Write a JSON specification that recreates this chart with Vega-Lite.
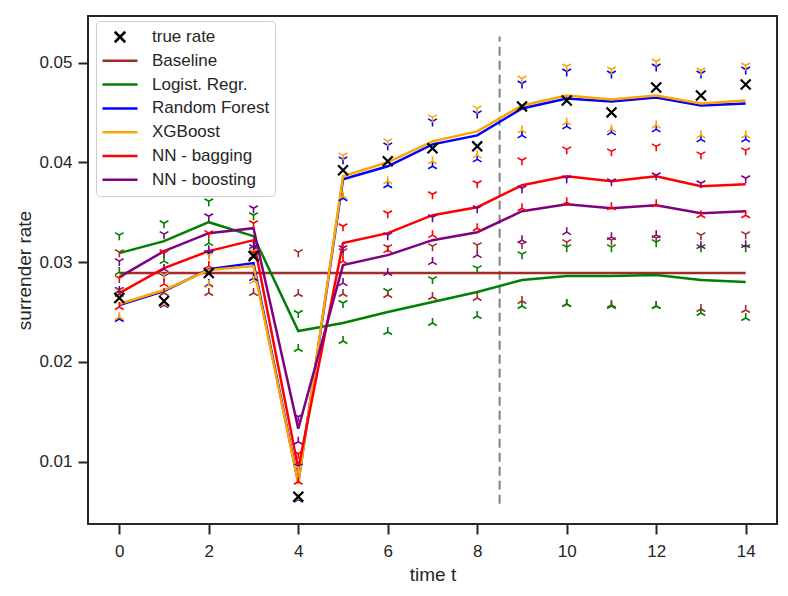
{
  "$schema": "https://vega.github.io/schema/vega-lite/v6.json",
  "width": 689,
  "height": 508,
  "autosize": {"type": "none"},
  "padding": {"left": 88, "top": 16, "right": 11, "bottom": 72},
  "background": "white",
  "datasets": {
    "preds": [
      {"t": 0, "series": "Baseline", "rate": 0.0289, "lower": 0.0268, "upper": 0.0310},
      {"t": 1, "series": "Baseline", "rate": 0.0289, "lower": 0.0269, "upper": 0.0309},
      {"t": 2, "series": "Baseline", "rate": 0.0289, "lower": 0.0269, "upper": 0.0309},
      {"t": 3, "series": "Baseline", "rate": 0.0289, "lower": 0.0269, "upper": 0.0309},
      {"t": 4, "series": "Baseline", "rate": 0.0289, "lower": 0.0268, "upper": 0.0310},
      {"t": 5, "series": "Baseline", "rate": 0.0289, "lower": 0.0268, "upper": 0.0311},
      {"t": 6, "series": "Baseline", "rate": 0.0289, "lower": 0.0267, "upper": 0.0315},
      {"t": 7, "series": "Baseline", "rate": 0.0289, "lower": 0.0265, "upper": 0.0316},
      {"t": 8, "series": "Baseline", "rate": 0.0289, "lower": 0.0264, "upper": 0.0317},
      {"t": 9, "series": "Baseline", "rate": 0.0289, "lower": 0.0261, "upper": 0.0318},
      {"t": 10, "series": "Baseline", "rate": 0.0289, "lower": 0.0258, "upper": 0.0320},
      {"t": 11, "series": "Baseline", "rate": 0.0289, "lower": 0.0257, "upper": 0.0322},
      {"t": 12, "series": "Baseline", "rate": 0.0289, "lower": 0.0256, "upper": 0.0324},
      {"t": 13, "series": "Baseline", "rate": 0.0289, "lower": 0.0253, "upper": 0.0327},
      {"t": 14, "series": "Baseline", "rate": 0.0289, "lower": 0.0252, "upper": 0.0328},
      {"t": 0, "series": "Logist. Regr.", "rate": 0.0309, "lower": 0.0290, "upper": 0.0327},
      {"t": 1, "series": "Logist. Regr.", "rate": 0.0321, "lower": 0.0301, "upper": 0.0339},
      {"t": 2, "series": "Logist. Regr.", "rate": 0.0340, "lower": 0.0319, "upper": 0.0361},
      {"t": 3, "series": "Logist. Regr.", "rate": 0.0326, "lower": 0.0306, "upper": 0.0347},
      {"t": 4, "series": "Logist. Regr.", "rate": 0.0231, "lower": 0.0213, "upper": 0.0249},
      {"t": 5, "series": "Logist. Regr.", "rate": 0.0239, "lower": 0.0221, "upper": 0.0259},
      {"t": 6, "series": "Logist. Regr.", "rate": 0.0250, "lower": 0.0230, "upper": 0.0271},
      {"t": 7, "series": "Logist. Regr.", "rate": 0.0260, "lower": 0.0239, "upper": 0.0283},
      {"t": 8, "series": "Logist. Regr.", "rate": 0.0270, "lower": 0.0246, "upper": 0.0294},
      {"t": 9, "series": "Logist. Regr.", "rate": 0.0282, "lower": 0.0256, "upper": 0.0308},
      {"t": 10, "series": "Logist. Regr.", "rate": 0.0286, "lower": 0.0258, "upper": 0.0315},
      {"t": 11, "series": "Logist. Regr.", "rate": 0.0286, "lower": 0.0256, "upper": 0.0315},
      {"t": 12, "series": "Logist. Regr.", "rate": 0.0287, "lower": 0.0256, "upper": 0.0320},
      {"t": 13, "series": "Logist. Regr.", "rate": 0.0282, "lower": 0.0249, "upper": 0.0315},
      {"t": 14, "series": "Logist. Regr.", "rate": 0.0280, "lower": 0.0244, "upper": 0.0315},
      {"t": 0, "series": "Random Forest", "rate": 0.0257, "lower": 0.0243, "upper": 0.0272},
      {"t": 1, "series": "Random Forest", "rate": 0.0271, "lower": 0.0257, "upper": 0.0286},
      {"t": 2, "series": "Random Forest", "rate": 0.0293, "lower": 0.0278, "upper": 0.0309},
      {"t": 3, "series": "Random Forest", "rate": 0.0299, "lower": 0.0284, "upper": 0.0315},
      {"t": 4, "series": "Random Forest", "rate": 0.0079, "lower": 0.0062, "upper": 0.0095},
      {"t": 5, "series": "Random Forest", "rate": 0.0383, "lower": 0.0364, "upper": 0.0403},
      {"t": 6, "series": "Random Forest", "rate": 0.0396, "lower": 0.0377, "upper": 0.0417},
      {"t": 7, "series": "Random Forest", "rate": 0.0418, "lower": 0.0396, "upper": 0.0441},
      {"t": 8, "series": "Random Forest", "rate": 0.0427, "lower": 0.0403, "upper": 0.0449},
      {"t": 9, "series": "Random Forest", "rate": 0.0454, "lower": 0.0427, "upper": 0.0479},
      {"t": 10, "series": "Random Forest", "rate": 0.0464, "lower": 0.0436, "upper": 0.0491},
      {"t": 11, "series": "Random Forest", "rate": 0.0461, "lower": 0.0430, "upper": 0.0489},
      {"t": 12, "series": "Random Forest", "rate": 0.0465, "lower": 0.0433, "upper": 0.0496},
      {"t": 13, "series": "Random Forest", "rate": 0.0457, "lower": 0.0423, "upper": 0.0489},
      {"t": 14, "series": "Random Forest", "rate": 0.0459, "lower": 0.0423, "upper": 0.0493},
      {"t": 0, "series": "XGBoost", "rate": 0.0258, "lower": 0.0245, "upper": 0.0271},
      {"t": 1, "series": "XGBoost", "rate": 0.0272, "lower": 0.0258, "upper": 0.0287},
      {"t": 2, "series": "XGBoost", "rate": 0.0292, "lower": 0.0277, "upper": 0.0307},
      {"t": 3, "series": "XGBoost", "rate": 0.0296, "lower": 0.0281, "upper": 0.0311},
      {"t": 4, "series": "XGBoost", "rate": 0.0078, "lower": 0.0063, "upper": 0.0094},
      {"t": 5, "series": "XGBoost", "rate": 0.0386, "lower": 0.0366, "upper": 0.0407},
      {"t": 6, "series": "XGBoost", "rate": 0.0400, "lower": 0.0381, "upper": 0.0421},
      {"t": 7, "series": "XGBoost", "rate": 0.0421, "lower": 0.0401, "upper": 0.0445},
      {"t": 8, "series": "XGBoost", "rate": 0.0431, "lower": 0.0407, "upper": 0.0454},
      {"t": 9, "series": "XGBoost", "rate": 0.0457, "lower": 0.0432, "upper": 0.0484},
      {"t": 10, "series": "XGBoost", "rate": 0.0467, "lower": 0.0440, "upper": 0.0496},
      {"t": 11, "series": "XGBoost", "rate": 0.0463, "lower": 0.0433, "upper": 0.0493},
      {"t": 12, "series": "XGBoost", "rate": 0.0467, "lower": 0.0437, "upper": 0.0501},
      {"t": 13, "series": "XGBoost", "rate": 0.0459, "lower": 0.0427, "upper": 0.0492},
      {"t": 14, "series": "XGBoost", "rate": 0.0462, "lower": 0.0427, "upper": 0.0497},
      {"t": 0, "series": "NN - bagging", "rate": 0.0269, "lower": 0.0255, "upper": 0.0284},
      {"t": 1, "series": "NN - bagging", "rate": 0.0294, "lower": 0.0278, "upper": 0.0310},
      {"t": 2, "series": "NN - bagging", "rate": 0.0311, "lower": 0.0296, "upper": 0.0329},
      {"t": 3, "series": "NN - bagging", "rate": 0.0322, "lower": 0.0306, "upper": 0.0339},
      {"t": 4, "series": "NN - bagging", "rate": 0.0093, "lower": 0.0080, "upper": 0.0108},
      {"t": 5, "series": "NN - bagging", "rate": 0.0319, "lower": 0.0301, "upper": 0.0336},
      {"t": 6, "series": "NN - bagging", "rate": 0.0329, "lower": 0.0312, "upper": 0.0349},
      {"t": 7, "series": "NN - bagging", "rate": 0.0347, "lower": 0.0327, "upper": 0.0368},
      {"t": 8, "series": "NN - bagging", "rate": 0.0355, "lower": 0.0334, "upper": 0.0379},
      {"t": 9, "series": "NN - bagging", "rate": 0.0377, "lower": 0.0354, "upper": 0.0402},
      {"t": 10, "series": "NN - bagging", "rate": 0.0386, "lower": 0.0360, "upper": 0.0413},
      {"t": 11, "series": "NN - bagging", "rate": 0.0381, "lower": 0.0355, "upper": 0.0411},
      {"t": 12, "series": "NN - bagging", "rate": 0.0386, "lower": 0.0358, "upper": 0.0416},
      {"t": 13, "series": "NN - bagging", "rate": 0.0376, "lower": 0.0347, "upper": 0.0408},
      {"t": 14, "series": "NN - bagging", "rate": 0.0378, "lower": 0.0347, "upper": 0.0412},
      {"t": 0, "series": "NN - boosting", "rate": 0.0285, "lower": 0.0271, "upper": 0.0301},
      {"t": 1, "series": "NN - boosting", "rate": 0.0311, "lower": 0.0293, "upper": 0.0328},
      {"t": 2, "series": "NN - boosting", "rate": 0.0329, "lower": 0.0312, "upper": 0.0346},
      {"t": 3, "series": "NN - boosting", "rate": 0.0334, "lower": 0.0316, "upper": 0.0354},
      {"t": 4, "series": "NN - boosting", "rate": 0.0133, "lower": 0.0120, "upper": 0.0145},
      {"t": 5, "series": "NN - boosting", "rate": 0.0297, "lower": 0.0279, "upper": 0.0314},
      {"t": 6, "series": "NN - boosting", "rate": 0.0307, "lower": 0.0289, "upper": 0.0327},
      {"t": 7, "series": "NN - boosting", "rate": 0.0322, "lower": 0.0300, "upper": 0.0345},
      {"t": 8, "series": "NN - boosting", "rate": 0.0330, "lower": 0.0307, "upper": 0.0354},
      {"t": 9, "series": "NN - boosting", "rate": 0.0351, "lower": 0.0322, "upper": 0.0374},
      {"t": 10, "series": "NN - boosting", "rate": 0.0358, "lower": 0.0330, "upper": 0.0384},
      {"t": 11, "series": "NN - boosting", "rate": 0.0354, "lower": 0.0325, "upper": 0.0381},
      {"t": 12, "series": "NN - boosting", "rate": 0.0357, "lower": 0.0327, "upper": 0.0387},
      {"t": 13, "series": "NN - boosting", "rate": 0.0349, "lower": 0.0316, "upper": 0.0379},
      {"t": 14, "series": "NN - boosting", "rate": 0.0351, "lower": 0.0317, "upper": 0.0384}
    ],
    "truth": [
      {"t": 0, "series": "true rate", "rate": 0.0264},
      {"t": 1, "series": "true rate", "rate": 0.0261},
      {"t": 2, "series": "true rate", "rate": 0.0289},
      {"t": 3, "series": "true rate", "rate": 0.0306},
      {"t": 4, "series": "true rate", "rate": 0.0065},
      {"t": 5, "series": "true rate", "rate": 0.0392},
      {"t": 6, "series": "true rate", "rate": 0.0401},
      {"t": 7, "series": "true rate", "rate": 0.0414},
      {"t": 8, "series": "true rate", "rate": 0.0416},
      {"t": 9, "series": "true rate", "rate": 0.0456},
      {"t": 10, "series": "true rate", "rate": 0.0462},
      {"t": 11, "series": "true rate", "rate": 0.0450},
      {"t": 12, "series": "true rate", "rate": 0.0475},
      {"t": 13, "series": "true rate", "rate": 0.0467},
      {"t": 14, "series": "true rate", "rate": 0.0478}
    ],
    "split": [
      {"t": 8.5, "from": 0.0058, "to": 0.0526}
    ]
  },
  "layer": [
    {
      "data": {"name": "split"},
      "mark": {"type": "rule", "color": "#808080", "strokeWidth": 2, "strokeDash": [9, 5]},
      "encoding": {
        "x": {"field": "t", "type": "quantitative"},
        "y": {"field": "from", "type": "quantitative"},
        "y2": {"field": "to"}
      }
    },
    {
      "data": {"name": "preds"},
      "mark": {"type": "line", "strokeWidth": 2.5},
      "encoding": {
        "x": {
          "field": "t",
          "type": "quantitative",
          "title": "time t",
          "scale": {"domain": [-0.7, 14.7], "nice": false, "zero": false},
          "axis": {"values": [0, 2, 4, 6, 8, 10, 12, 14], "format": "d"}
        },
        "y": {
          "field": "rate",
          "type": "quantitative",
          "title": "surrender rate",
          "scale": {"domain": [0.00376, 0.05466], "nice": false, "zero": false},
          "axis": {"values": [0.01, 0.02, 0.03, 0.04, 0.05], "format": ".2f"}
        },
        "color": {
          "field": "series",
          "type": "nominal",
          "sort": null,
          "scale": {
            "domain": ["true rate", "Baseline", "Logist. Regr.", "Random Forest", "XGBoost", "NN - bagging", "NN - boosting"],
            "range": ["black", "#a52a2a", "#008000", "#0000ff", "#ffa500", "#ff0000", "#800080"]
          },
          "legend": {"title": null, "orient": "none", "legendX": 8, "legendY": 5}
        }
      }
    },
    {
      "data": {"name": "preds"},
      "mark": {
        "type": "point",
        "filled": false,
        "opacity": 1,
        "strokeWidth": 1.6,
        "size": 100,
        "shape": "M0,0L0,1M0,0L-0.866,-0.5M0,0L0.866,-0.5"
      },
      "encoding": {
        "x": {"field": "t", "type": "quantitative"},
        "y": {"field": "upper", "type": "quantitative"},
        "color": {"field": "series", "type": "nominal"}
      }
    },
    {
      "data": {"name": "preds"},
      "mark": {
        "type": "point",
        "filled": false,
        "opacity": 1,
        "strokeWidth": 1.6,
        "size": 100,
        "shape": "M0,0L0,-1M0,0L-0.866,0.5M0,0L0.866,0.5"
      },
      "encoding": {
        "x": {"field": "t", "type": "quantitative"},
        "y": {"field": "lower", "type": "quantitative"},
        "color": {"field": "series", "type": "nominal"}
      }
    },
    {
      "data": {"name": "truth"},
      "mark": {"type": "point", "filled": false, "opacity": 1, "strokeWidth": 2.2, "size": 1100},
      "encoding": {
        "x": {"field": "t", "type": "quantitative"},
        "y": {"field": "rate", "type": "quantitative"},
        "color": {"field": "series", "type": "nominal"},
        "shape": {
          "field": "series",
          "type": "nominal",
          "sort": null,
          "scale": {
            "domain": ["true rate", "Baseline", "Logist. Regr.", "Random Forest", "XGBoost", "NN - bagging", "NN - boosting"],
            "range": ["M-0.3,-0.3L0.3,0.3M-0.3,0.3L0.3,-0.3", "stroke", "stroke", "stroke", "stroke", "stroke", "stroke"]
          },
          "legend": {"title": null, "orient": "none", "legendX": 8, "legendY": 5}
        }
      }
    }
  ],
  "config": {
    "font": "Liberation Sans",
    "view": {"stroke": "#262626", "strokeWidth": 2},
    "axis": {
      "grid": false,
      "domain": false,
      "labelFont": "Liberation Sans",
      "titleFont": "Liberation Sans",
      "labelFontSize": 17,
      "titleFontSize": 19,
      "titleFontWeight": "normal",
      "labelColor": "#262626",
      "titleColor": "#262626",
      "tickColor": "#262626",
      "tickWidth": 2,
      "tickSize": 10,
      "labelFlush": false,
      "labelOverlap": false
    },
    "axisX": {"titlePadding": 6, "labelPadding": 9},
    "axisY": {"titlePadding": 4, "labelPadding": 6},
    "legend": {
      "labelFont": "Liberation Sans",
      "labelFontSize": 17,
      "labelColor": "#262626",
      "symbolSize": 1225,
      "symbolStrokeWidth": 2.5,
      "clipHeight": 22,
      "rowPadding": 1.8,
      "padding": 5,
      "labelOffset": 13,
      "strokeColor": "#cccccc",
      "fillColor": "white",
      "cornerRadius": 4,
      "labelLimit": 300
    }
  }
}
